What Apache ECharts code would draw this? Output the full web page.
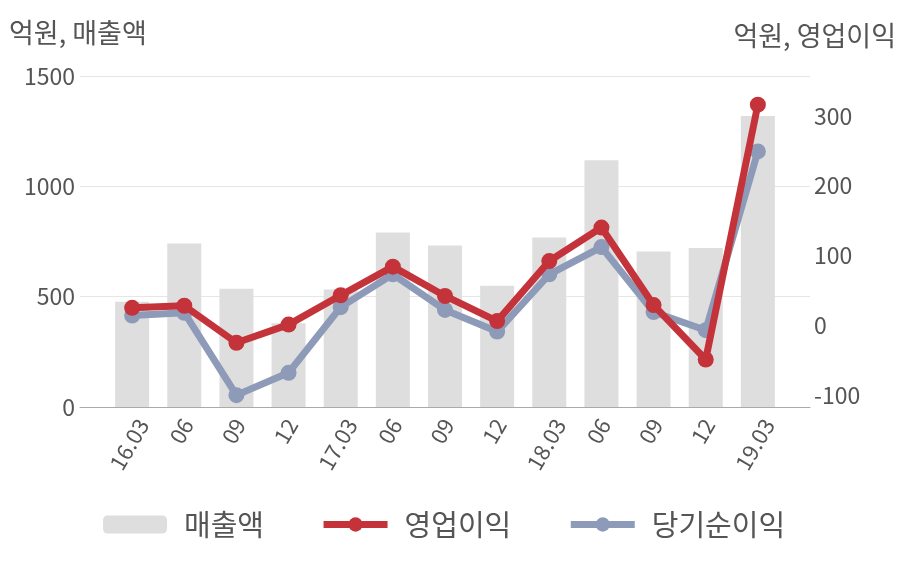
<!DOCTYPE html>
<html><head><meta charset="utf-8">
<script src="https://cdn.jsdelivr.net/npm/echarts@6/dist/echarts.min.js"></script>
<style>html,body{margin:0;padding:0;background:#fff}#c{width:908px;height:580px}</style>
</head><body><div id="c"></div>
<script>
const categories = ['16.03','06','09','12','17.03','06','09','12','18.03','06','09','12','19.03'];
const sales = [477, 741, 536, 380, 532, 791, 732, 550, 768, 1118, 705, 720, 1319];
const opIncome = [25, 28, -25, 1, 43, 84, 42, 6, 92, 140, 29, -49, 316];
const netIncome = [14, 18, -100, -68, 26, 73, 22, -9, 73, 112, 19, -7, 249];
const leftTicks = [0, 500, 1000, 1500];
const rightTicks = [-100, 0, 100, 200, 300];

const FONT = '"Noto Sans CJK KR", "Noto Sans", sans-serif';
const TXT = '#555';
const toPts = arr => arr.map((v, i) => [i, v]);

const chart = echarts.init(document.getElementById('c'), null, {renderer: 'canvas'});
chart.setOption({
  animation: false,
  textStyle: {fontFamily: FONT},
  title: [
    {text: '억원, 매출액', left: 4, top: 14, textStyle: {fontFamily: FONT, fontSize: 27, fontWeight: 'normal', color: TXT}},
    {text: '억원, 영업이익', right: 7, top: 17, textStyle: {fontFamily: FONT, fontSize: 27, fontWeight: 'normal', color: TXT}}
  ],
  grid: {left: 80, right: 98, top: 76, bottom: 173},
  legend: {
    bottom: 36, left: 98, itemWidth: 64, itemHeight: 18, itemGap: 56,
    textStyle: {fontFamily: FONT, fontSize: 29, color: TXT, padding: [0, 0, 0, 12]},
    data: [
      {name: '매출액'},
      {name: '영업이익', lineStyle: {width: 7}},
      {name: '당기순이익', lineStyle: {width: 7}}
    ]
  },
  xAxis: {
    type: 'value', min: -1, max: 13, interval: 1,
    axisLine: {show: true, lineStyle: {color: '#aaa', width: 1}},
    axisTick: {show: false}, splitLine: {show: false},
    axisLabel: {
      rotate: 60, margin: 24, fontSize: 22, color: TXT, fontFamily: FONT,
      align: 'center', verticalAlign: 'middle',
      showMinLabel: true, showMaxLabel: true,
      formatter: v => {
        if (!(v >= 0 && v < categories.length && Number.isInteger(v))) return '';
        const t = categories[v];
        return t.length > 2 ? '{l|' + t + '}' : '{s|' + t + '}';
      },
      rich: {
        l: {fontSize: 22, color: TXT, fontFamily: FONT, padding: [8, 26, 0, 0]},
        s: {fontSize: 22, color: TXT, fontFamily: FONT, padding: [0, 3, 5, 0]}
      }
    }
  },
  yAxis: [
    {
      type: 'value', min: leftTicks[0], max: leftTicks[leftTicks.length - 1], interval: 500,
      axisLine: {show: false}, axisTick: {show: false},
      splitLine: {show: true, lineStyle: {color: '#e6e6e6', width: 1}},
      axisLabel: {fontSize: 23, color: TXT, margin: 5, fontFamily: FONT, formatter: v => String(v)}
    },
    {
      type: 'value', min: -117, max: 357, interval: 1, position: 'right',
      axisLine: {show: false}, axisTick: {show: false}, splitLine: {show: false},
      axisLabel: {
        fontSize: 23, color: TXT, margin: 4, fontFamily: FONT,
        showMinLabel: true, showMaxLabel: true,
        formatter: v => rightTicks.indexOf(Math.round(v)) >= 0 && Math.abs(v - Math.round(v)) < 1e-6 ? String(Math.round(v)) : ''
      }
    }
  ],
  series: [
    {
      name: '매출액', type: 'bar', yAxisIndex: 0, barWidth: 34, z: 1,
      itemStyle: {color: '#dedede'},
      data: toPts(sales)
    },
    {
      name: '당기순이익', type: 'line', yAxisIndex: 1, z: 3,
      symbol: 'circle', symbolSize: 16,
      lineStyle: {color: '#8e9bb8', width: 7},
      itemStyle: {color: '#8e9bb8'},
      data: toPts(netIncome)
    },
    {
      name: '영업이익', type: 'line', yAxisIndex: 1, z: 4,
      symbol: 'circle', symbolSize: 16,
      lineStyle: {color: '#c4323a', width: 7},
      itemStyle: {color: '#c4323a'},
      data: toPts(opIncome)
    }
  ]
});
</script></body></html>
